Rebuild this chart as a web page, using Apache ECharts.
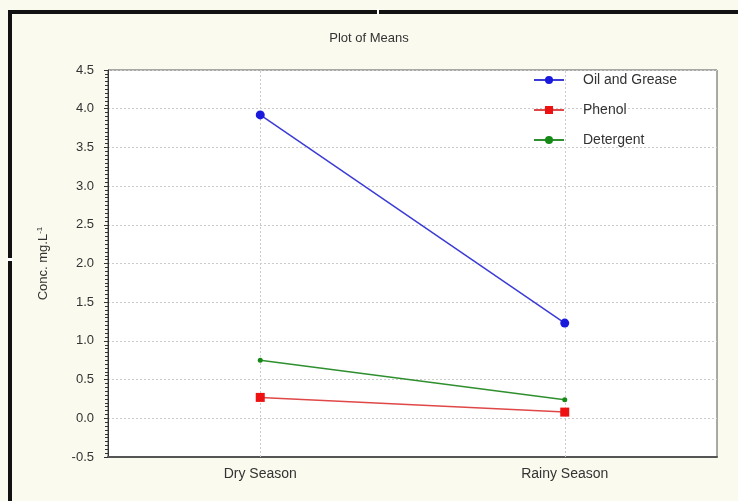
<!DOCTYPE html>
<html><head><meta charset="utf-8">
<script src="https://cdn.jsdelivr.net/npm/echarts@6/dist/echarts.min.js"></script>
<style>html,body{margin:0;padding:0;background:#fbfaee;}#c{width:738px;height:501px;}</style>
</head><body><div id="c"></div>
<script>
const categories = ['Dry Season', 'Rainy Season'];
const oilGrease = [3.92, 1.23];
const phenol = [0.27, 0.08];
const detergent = [0.75, 0.24];
const yTicks = { min: -0.5, max: 4.5, interval: 0.5 };

const chart = echarts.init(document.getElementById('c'));
const font = 'Liberation Sans, Arial, sans-serif';
chart.setOption({
  backgroundColor: '#fbfaee',
  animation: false,
  title: { text: 'Plot of Means', left: 'center', top: 27, textStyle: { fontSize: 13, fontWeight: 'normal', color: '#333', fontFamily: font } },
  grid: { left: 108, right: 21, top: 70, bottom: 44, show: true, backgroundColor: '#ffffff', borderColor: '#555', borderWidth: 1 },
  legend: {
    orient: 'vertical', left: 528, top: 68, itemGap: 16, itemWidth: 30, itemHeight: 10,
    textStyle: { fontSize: 14, color: '#333', fontFamily: font, padding: [0,0,0,14] },
    data: ['Oil and Grease', 'Phenol', 'Detergent']
  },
  xAxis: {
    type: 'category', data: categories, boundaryGap: true,
    axisLine: { onZero: false, lineStyle: { color: '#555', width: 2 } },
    axisTick: { alignWithLabel: true, inside: true, length: 4, lineStyle: { color: '#333' } },
    axisLabel: { fontSize: 14, color: '#333', margin: 10, fontFamily: font },
    splitLine: { show: false }
  },
  yAxis: {
    type: 'value', min: yTicks.min, max: yTicks.max, interval: yTicks.interval,
    name: 'Conc. mg.L{sup|-1}', nameLocation: 'middle', nameGap: 58, nameRotate: 90,
    nameTextStyle: { fontSize: 13, color: '#333', fontFamily: font, rich: { sup: { fontSize: 8, verticalAlign: 'top', padding: [0,0,6,0], color: '#333' } } },
    axisLine: { show: true, lineStyle: { color: '#333', width: 1 } },
    axisTick: { show: true, length: 4, lineStyle: { color: '#333' } },
    minorTick: { show: true, splitNumber: 10, length: 3, lineStyle: { color: '#333' } },
    axisLabel: { fontSize: 13, color: '#333', margin: 14, fontFamily: font, formatter: v => v.toFixed(1) },
    splitLine: { show: true, lineStyle: { color: '#ccc', type: [2, 2] } }
  },
  series: [
    { name: 'Oil and Grease', type: 'line', data: oilGrease, symbol: 'circle', symbolSize: 9, color: '#1a1adc', lineStyle: { width: 1.5, color: '#3b3bd6' }, z: 3,
      markLine: { silent: true, symbol: 'none', label: { show: false }, lineStyle: { color: '#ccc', type: [2, 2], width: 1 },
        data: categories.map(c => ({ xAxis: c })) , z: 1 } },
    { name: 'Phenol', type: 'line', data: phenol, symbol: 'rect', symbolSize: 9, color: '#ee1111', lineStyle: { width: 1.5, color: '#e04848' }, z: 3 },
    { name: 'Detergent', type: 'line', data: detergent, symbol: 'circle', symbolSize: 5, color: '#168a16', lineStyle: { width: 1.5, color: '#2f8f2f' }, z: 3 }
  ],
  graphic: [
    { type: 'rect', shape: { x: 8, y: 10, width: 730, height: 4 }, style: { fill: '#111' }, z: 100 },
    { type: 'rect', shape: { x: 8, y: 10, width: 4, height: 491 }, style: { fill: '#111' }, z: 100 },
    { type: 'rect', shape: { x: 377, y: 9, width: 2, height: 6 }, style: { fill: '#fff' }, z: 101 },
    { type: 'rect', shape: { x: 7, y: 258, width: 6, height: 3 }, style: { fill: '#fff' }, z: 101 }
  ]
});
</script></body></html>
